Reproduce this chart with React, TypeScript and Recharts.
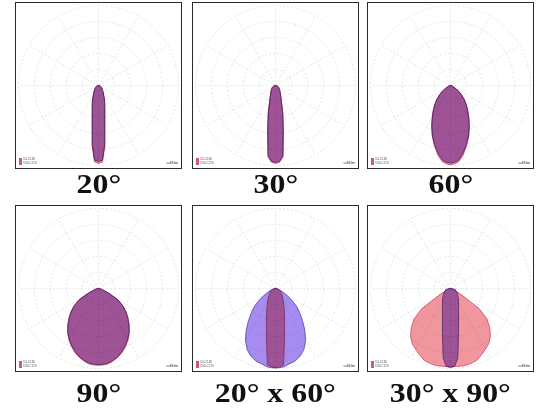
import React from 'react';
import { RadarChart, Radar, PolarGrid, PolarAngleAxis, PolarRadiusAxis } from 'recharts';

// gamma angles (deg from nadir), one half-plane; the other half is mirrored
const GAMMA = [0, 3, 6, 10, 15, 20, 25, 30, 35, 40, 45, 50, 55, 60, 65, 70, 80, 90];

// relative luminous intensity (% of chart scale)
const B20_C0 = [97.5, 95.6, 76, 46, 31, 23, 17, 12.5, 10, 8.2, 7, 5.8, 4.8, 4, 3.4, 2.8, 1.4, 0];
const B20_C90 = [95, 93.5, 74, 45, 30, 22.5, 16.5, 12.2, 9.8, 8, 6.8, 5.6, 4.6, 3.9, 3.3, 2.7, 1.4, 0];

const B30_C0 = [97.5, 96, 90, 57.5, 36, 22, 16, 12.5, 10.5, 8.7, 7.5, 6.2, 5.4, 4.5, 3.7, 3.1, 1.5, 0];
const B30_C90 = [96, 95, 88, 55, 34, 21, 15.5, 12, 10, 8.4, 7.2, 6, 5.2, 4.3, 3.6, 3, 1.5, 0];

const B60_C0 = [99, 98, 96, 89, 78, 67, 56, 46, 37.5, 30.5, 24, 18, 12.5, 7, 4.5, 3, 1.5, 0];
const B60_C90 = [97, 96, 94, 87, 76.5, 66, 55, 45, 37, 30, 23.5, 17.5, 12, 6.8, 4.4, 3, 1.5, 0];

const B90_C0 = [96, 95.8, 95.5, 93.4, 90, 85.5, 80, 74, 67.5, 60, 52.5, 45, 37, 28, 15, 7.5, 3, 0];
const B90_C90 = [95, 94.8, 94.5, 92.5, 89, 84.5, 79, 73, 66.5, 59, 51.5, 44, 36, 27, 14, 7, 3, 0];

const B20X60_C0 = [99, 98, 96, 65, 44, 32.5, 25, 20, 16, 14, 11, 9.4, 8, 7, 5.5, 4.4, 2.2, 0];
const B20X60_C90 = [99.4, 99, 98.5, 96, 94, 90, 84, 75, 64, 52.5, 42.5, 34, 24, 15, 10, 6, 2.5, 0];

const B30X90_C0 = [97.5, 97.5, 97.7, 98, 97.2, 95.7, 91.5, 87.5, 83.7, 77.5, 69.4, 59.4, 43.7, 15, 6.2, 3.7, 1.9, 0];
const B30X90_C90 = [99, 97.5, 87.5, 57.5, 39, 29.5, 24, 20, 17.5, 15, 13, 11.5, 10.2, 9, 7.8, 6.7, 6.2, 0];

const PANEL_LABELS = ['20°', '30°', '60°', '90°', '20° x 60°', '30° x 90°'];
const PANEL_C0 = [B20_C0, B30_C0, B60_C0, B90_C0, B20X60_C0, B30X90_C0];
const PANEL_C90 = [B20_C90, B30_C90, B60_C90, B90_C90, B20X60_C90, B30X90_C90];

const GRID_ANGLES = [0, 30, 60, 90, 120, 150, 180, 210, 240, 270, 300, 330];
const GRID_FRACTIONS = [0.2, 0.4, 0.6, 0.8, 1];

const buildData = (c0: number[], c90: number[]) => {
  const right = GAMMA.map((g, i) => ({ angle: g, c0: c0[i], c90: c90[i] }));
  const left = GAMMA.slice(1)
    .map((g, i) => ({ angle: 360 - g, c0: c0[i + 1], c90: c90[i + 1] }))
    .reverse();
  return [...right, ...left];
};

const LEFTS = [15, 192, 367];
const TOPS = [2, 205];
const SIZE = 167;
const INNER = 165;
const OUTER = 80;

function Panel({ idx }: { idx: number }) {
  const col = idx % 3;
  const row = Math.floor(idx / 3);
  const left = LEFTS[col];
  const top = TOPS[row];
  const data = buildData(PANEL_C0[idx], PANEL_C90[idx]);
  return (
    <>
      <div
        style={{
          position: 'absolute',
          left,
          top,
          width: SIZE,
          height: SIZE,
          border: '1px solid #2a2a2a',
          boxSizing: 'border-box',
          background: '#fff',
          overflow: 'hidden',
        }}
      >
        <RadarChart
          width={INNER}
          height={INNER}
          data={data}
          cx={INNER / 2}
          cy={INNER / 2}
          outerRadius={OUTER}
          startAngle={-90}
          endAngle={270}
          margin={{ top: 0, right: 0, bottom: 0, left: 0 }}
        >
          <PolarGrid
            gridType="circle"
            polarAngles={GRID_ANGLES}
            polarRadius={GRID_FRACTIONS.map((f) => f * OUTER)}
            stroke="#e6e6e6"
            strokeDasharray="2 2"
          />
          <PolarAngleAxis dataKey="angle" type="number" domain={[0, 360]} tick={false} axisLine={false} />
          <PolarRadiusAxis domain={[0, 100]} tick={false} axisLine={false} />
          <Radar
            className="lobe"
            dataKey="c0"
            fill="#f2969e"
            fillOpacity={1}
            stroke="#d06080"
            strokeWidth={1}
            isAnimationActive={false}
            dot={false}
          />
          <Radar
            className="lobe"
            dataKey="c90"
            fill="#a68cf0"
            fillOpacity={1}
            stroke="#6a58b8"
            strokeWidth={1}
            isAnimationActive={false}
            dot={false}
          />
        </RadarChart>
        <div style={{ position: 'absolute', left: 3, bottom: 3, display: 'flex', alignItems: 'center', gap: 1 }}>
          <div style={{ width: 3, height: 7, background: '#c85a7a' }} />
          <div style={{ fontSize: 3, lineHeight: '3.5px', color: '#555', fontFamily: 'Liberation Sans' }}>
            C0-C180
            <br />
            C90-C270
          </div>
        </div>
        <div
          style={{
            position: 'absolute',
            right: 3,
            bottom: 3,
            fontSize: 4,
            lineHeight: '4px',
            color: '#333',
            fontFamily: 'Liberation Sans',
          }}
        >
          cd/klm
        </div>
      </div>
      <div
        style={{
          position: 'absolute',
          left,
          top: row === 0 ? 171 : 380,
          width: SIZE,
          textAlign: 'center',
          fontFamily: '"Liberation Serif", "Times New Roman", serif',
          fontWeight: 'bold',
          fontSize: 27,
          lineHeight: '27px',
          color: '#111',
          whiteSpace: 'nowrap',
        }}
      >
        <span style={{ display: 'inline-block', transform: 'scaleX(1.18)', transformOrigin: 'center' }}>
          {PANEL_LABELS[idx]}
        </span>
      </div>
    </>
  );
}

export default function App() {
  return (
    <div style={{ position: 'absolute', left: 0, top: 0, width: 550, height: 410, background: '#fff' }}>
      <style>{`.lobe path { mix-blend-mode: multiply; }`}</style>
      {PANEL_LABELS.map((_, i) => (
        <Panel key={i} idx={i} />
      ))}
    </div>
  );
}
